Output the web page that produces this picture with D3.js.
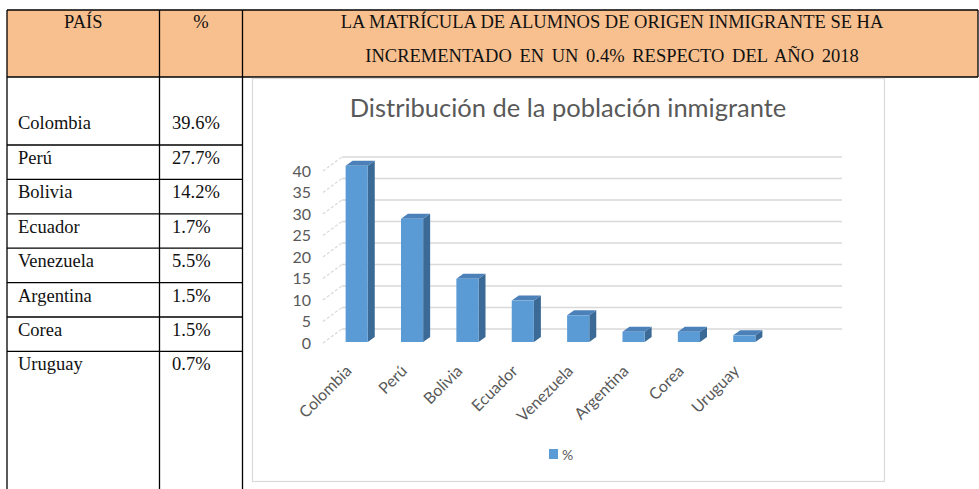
<!DOCTYPE html>
<html>
<head>
<meta charset="utf-8">
<script src="https://cdn.jsdelivr.net/npm/d3@7"></script>
<style>
  body { margin: 0; background: #fff; }
  svg { display: block; }
  .serif { font-family: "Liberation Serif", "Times New Roman", serif; fill: #111; }
  .sans { font-family: Lato, "Open Sans", sans-serif; fill: #595959; }
</style>
</head>
<body>
<div id="chart"></div>
<script>
// table data
var countries = ["Colombia", "Perú", "Bolivia", "Ecuador", "Venezuela", "Argentina", "Corea", "Uruguay"];
var tablePct = ["39.6%", "27.7%", "14.2%", "1.7%", "5.5%", "1.5%", "1.5%", "0.7%"];
var headerCols = ["PAÍS", "%"];
var headerNote = ["LA MATRÍCULA DE ALUMNOS DE ORIGEN INMIGRANTE SE HA",
                  "INCREMENTADO EN UN 0.4% RESPECTO DEL AÑO 2018"];

// chart data (bar heights as drawn in the picture)
var chartValues = [39.6, 27.7, 14.2, 9.3, 6.0, 2.3, 2.3, 1.5];
var yTicks = [0, 5, 10, 15, 20, 25, 30, 35, 40];
var chartTitle = "Distribución de la población inmigrante";
var seriesName = "%";

var width = 979, height = 489;

var svg = d3.select("#chart")
    .append("svg")
    .attr("width", width)
    .attr("height", height);

// ---------- table ----------
var colX = [7, 159.5, 242.5, 978];
var headTop = 10, headBottom = 77;

svg.append("rect")
    .attr("x", colX[0]).attr("y", headTop)
    .attr("width", colX[3] - colX[0]).attr("height", headBottom - headTop)
    .attr("fill", "#F8C08F");

headerCols.forEach(function (t, i) {
    svg.append("text").attr("class", "serif")
        .attr("x", (colX[i] + colX[i + 1]) / 2).attr("y", 28)
        .attr("text-anchor", "middle")
        .style("font-size", "18.5px")
        .text(t);
});

svg.selectAll(".note")
    .data(headerNote)
    .enter().append("text")
    .attr("class", "serif note")
    .attr("x", 612)
    .attr("y", function (d, i) { return 28 + i * 34; })
    .attr("text-anchor", "middle")
    .style("font-size", "18.5px")
    .style("word-spacing", function (d, i) { return i === 1 ? "3px" : "0px"; })
    .text(function (d) { return d; });

var rowTop = function (i) { return i === 0 ? headBottom : 145 + (i - 1) * 34.4; };

var rows = svg.selectAll(".row")
    .data(countries)
    .enter().append("g")
    .attr("class", "row");

rows.append("text").attr("class", "serif")
    .attr("x", 18)
    .attr("y", function (d, i) { return i === 0 ? 129 : rowTop(i) + 19; })
    .style("font-size", "18.5px")
    .text(function (d) { return d; });

rows.append("text").attr("class", "serif")
    .attr("x", 172)
    .attr("y", function (d, i) { return i === 0 ? 129 : rowTop(i) + 19; })
    .style("font-size", "18.5px")
    .text(function (d, i) { return tablePct[i]; });

// row separators
svg.selectAll(".rowline")
    .data(countries.slice(1))
    .enter().append("line")
    .attr("x1", colX[0]).attr("x2", colX[2])
    .attr("y1", function (d, i) { return rowTop(i + 1); })
    .attr("y2", function (d, i) { return rowTop(i + 1); })
    .attr("stroke", "#000").attr("stroke-width", 1.3);

// header frame
svg.append("line").attr("x1", colX[0]).attr("x2", colX[3]).attr("y1", headTop).attr("y2", headTop)
    .attr("stroke", "#000").attr("stroke-width", 1.3);
svg.append("line").attr("x1", colX[0]).attr("x2", colX[3]).attr("y1", headBottom).attr("y2", headBottom)
    .attr("stroke", "#000").attr("stroke-width", 1.3);
svg.append("line").attr("x1", colX[3]).attr("x2", colX[3]).attr("y1", headTop).attr("y2", headBottom)
    .attr("stroke", "#000").attr("stroke-width", 1.3);
[colX[0], colX[1], colX[2]].forEach(function (x) {
    svg.append("line").attr("x1", x).attr("x2", x).attr("y1", headTop).attr("y2", height)
        .attr("stroke", "#000").attr("stroke-width", 1.3);
});

// ---------- chart ----------
svg.append("rect")
    .attr("x", 252.5).attr("y", 78.5)
    .attr("width", 632).attr("height", 403)
    .attr("fill", "#fff")
    .attr("stroke", "#d9d9d9").attr("stroke-width", 1.2);

svg.append("text").attr("class", "sans")
    .attr("x", 568).attr("y", 117)
    .attr("text-anchor", "middle")
    .style("font-size", "25.5px")
    .text(chartTitle);

var DX = 19, DY = -14;          // depth of the 3D wall
var BX = 9, BDX = 7, BDY = -5;  // bar depth placement

var yFront = d3.scaleLinear().domain([0, 40]).range([343, 171]);
var yBar = d3.scaleLinear().domain([0, 40]).range([342, 164]);
var x = d3.scaleBand().domain(countries).range([320, 763]).paddingInner(0.6).paddingOuter(0.3);

// back wall grid
svg.selectAll(".grid")
    .data(yTicks)
    .enter().append("line")
    .attr("x1", 342).attr("x2", 842)
    .attr("y1", function (d) { return yFront(d) + DY; })
    .attr("y2", function (d) { return yFront(d) + DY; })
    .attr("stroke", "#d9d9d9").attr("stroke-width", 1.6);

// side wall dashes
svg.selectAll(".wall")
    .data(yTicks)
    .enter().append("line")
    .attr("x1", 342 - DX).attr("x2", 342)
    .attr("y1", function (d) { return yFront(d); })
    .attr("y2", function (d) { return yFront(d) + DY; })
    .attr("stroke", "#d9d9d9").attr("stroke-width", 1.2)
    .attr("stroke-dasharray", "3,2");

// y axis labels
var yAxis = svg.append("g")
    .attr("transform", "translate(311,0)")
    .call(d3.axisLeft(yFront).tickValues(yTicks).tickSize(0).tickPadding(0));
yAxis.select(".domain").remove();
yAxis.selectAll("text")
    .attr("class", "sans")
    .attr("fill", "#595959")
    .style("font-family", "Lato, 'Open Sans', sans-serif")
    .style("font-size", "16px");

// bars
var bw = x.bandwidth();
var bars = svg.selectAll(".bar")
    .data(countries)
    .enter().append("g")
    .attr("class", "bar");

bars.append("path")
    .attr("fill", "#3B6A96")
    .attr("d", function (d, i) {
        var x0 = x(d) + BX + bw, t = yBar(chartValues[i]), b = yBar(0);
        return "M" + x0 + "," + t + "L" + (x0 + BDX) + "," + (t + BDY) +
            "L" + (x0 + BDX) + "," + (b + BDY) + "L" + x0 + "," + b + "Z";
    });
bars.append("path")
    .attr("fill", "#4C80B8")
    .attr("d", function (d, i) {
        var x0 = x(d) + BX, t = yBar(chartValues[i]);
        return "M" + x0 + "," + t + "L" + (x0 + BDX) + "," + (t + BDY) +
            "L" + (x0 + bw + BDX) + "," + (t + BDY) + "L" + (x0 + bw) + "," + t + "Z";
    });
bars.append("rect")
    .attr("fill", "#5B9BD5")
    .attr("x", function (d) { return x(d) + BX; })
    .attr("y", function (d, i) { return yBar(chartValues[i]); })
    .attr("width", bw)
    .attr("height", function (d, i) { return yBar(0) - yBar(chartValues[i]); });

// category labels
svg.selectAll(".xlabel")
    .data(countries)
    .enter().append("text")
    .attr("class", "sans")
    .attr("text-anchor", "end")
    .style("font-size", "16px")
    .attr("transform", function (d) {
        return "translate(" + (x(d) + BX + bw / 2 - 4) + ",372) rotate(-45)";
    })
    .text(function (d) { return d; });

// legend
svg.append("rect")
    .attr("x", 549).attr("y", 449).attr("width", 9).attr("height", 10)
    .attr("fill", "#5B9BD5");
svg.append("text").attr("class", "sans")
    .attr("x", 562).attr("y", 460)
    .style("font-size", "14px")
    .text(seriesName);
</script>
</body>
</html>
